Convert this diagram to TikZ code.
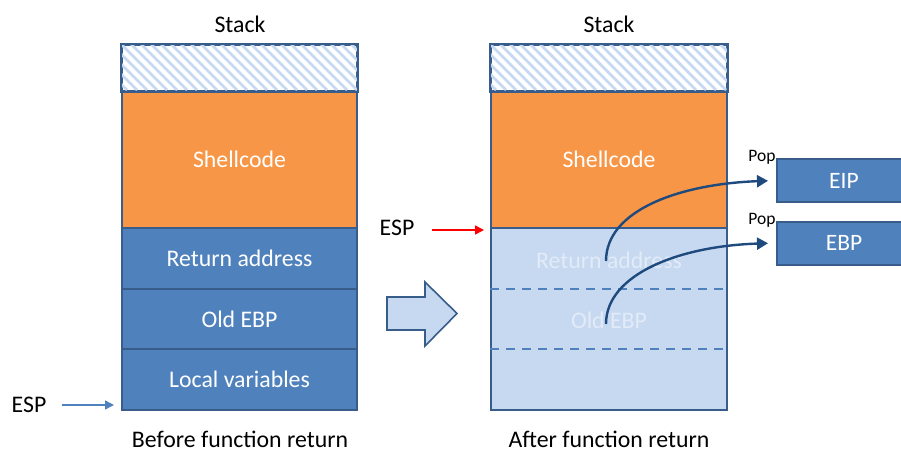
\documentclass[tikz,border=0pt]{standalone}
\usepackage{fontspec}
\setmainfont{Carlito}
\usetikzlibrary{arrows.meta,calc}
\definecolor{cellorange}{HTML}{F79646}
\definecolor{cellblue}{HTML}{4F81BD}
\definecolor{cellline}{HTML}{385D8A}
\definecolor{celllight}{HTML}{C6D9F1}
\definecolor{ghosttext}{HTML}{E2EBF7}
\definecolor{popline}{HTML}{1F4A7E}
\tikzset{
  cell/.style={draw=cellline, line width=2pt, inner sep=0pt, minimum width=235pt,
    text=white, font=\fontsize{23.8}{28}\selectfont},
  hatchcell/.style={cell, fill=white, minimum height=46pt},
  regbox/.style={draw=cellline, line width=2pt, fill=cellblue, inner sep=0pt,
    minimum width=134pt, minimum height=43pt, text=white, font=\fontsize{23.5}{28}\selectfont},
  label/.style={font=\fontsize{23.8}{28}\selectfont, inner sep=0pt},
  caption/.style={label, anchor=base, text depth=0pt},
  poplabel/.style={font=\fontsize{17.5}{21}\selectfont, inner sep=0pt},
  ghost/.style={text=ghosttext, font=\fontsize{23.8}{28}\selectfont, inner sep=0pt},
  divider/.style={draw=cellblue, line width=2pt, dash pattern=on 9pt off 7pt},
  poparrow/.style={draw=popline, line width=2.4pt, shorten >=8pt, -{Triangle[length=11pt,width=12pt]}},
}
\begin{document}
\begin{tikzpicture}[x=1pt,y=-1pt]
\useasboundingbox (0,0) rectangle (901,453);

% ---------- stack before return ----------
\node[label] (titleL) at (240,24) {Stack};
\node[hatchcell] (freeL) at (239.5,68) {};
\node[cell, fill=cellorange, minimum height=137pt] (shellL) at (239.5,159.5) {Shellcode};
\node[cell, fill=cellblue, minimum height=61pt] (retL) at (239.5,258.5) {Return address};
\node[cell, fill=cellblue, minimum height=60pt] (ebpL) at (239.5,319) {Old EBP};
\node[cell, fill=cellblue, minimum height=61pt] (localL) at (239.5,379.5) {Local variables};
\node[caption] (capL) at (240,447) {Before function return};

\node[label] (espL) at (29,405) {ESP};
\coordinate (espLtip) at (114,405);
\draw[cellblue, line width=1.5pt, -{Triangle[length=9pt,width=9pt]}] (espL.east) ++(15,0) -- (espLtip);

% ---------- transition arrow ----------
\draw[cellline, line width=1.6pt, fill=celllight, line join=miter]
  (387,297) -- (425,297) -- (425,282) -- (457,313.5) -- (425,346) -- (425,330) -- (387,330) -- cycle;

% ---------- stack after return ----------
\node[label] (titleR) at (609,24) {Stack};
\node[hatchcell, minimum width=236pt] (freeR) at (609,68) {};
\node[cell, fill=cellorange, minimum width=236pt, minimum height=137pt] (shellR) at (609,159.5) {Shellcode};
\node[cell, fill=celllight, minimum width=236pt, minimum height=182pt] (popped) at (609,319) {};
\draw[divider] (popped.west |- 0,289) -- (popped.east |- 0,289);
\draw[divider] (popped.west |- 0,349) -- (popped.east |- 0,349);
\node[ghost] (retR) at (609,260) {Return address};
\node[ghost] (ebpR) at (609,320) {Old EBP};
\node[caption] (capR) at (609,447) {After function return};

\node[label] (espR) at (397,228) {ESP};
\coordinate (espRtip) at (484,230);
\draw[red, line width=1.5pt, -{Triangle[length=9pt,width=9pt]}] (espR.east |- espRtip) ++(17,0) -- (espRtip);

% hatching of the unused stack area
\foreach \cellname in {freeL,freeR}{
  \begin{scope}
    \clip (\cellname.north west) rectangle (\cellname.south east);
    \foreach \i in {-6,...,26}{
      \draw[celllight, line width=2.6pt]
        ($(\cellname.north west)+(10*\i,0)$) -- ++(46,46);
    }
  \end{scope}
  \draw[cellline, line width=2pt] (\cellname.north west) rectangle (\cellname.south east);
}

% ---------- registers ----------
\node[regbox] (eip) at (844,180.5) {EIP};
\node[regbox] (ebp) at (844,243) {EBP};
\node[poplabel] (popEIP) at (762,157) {Pop};
\node[poplabel] (popEBP) at (762,220) {Pop};

\coordinate (retsrc) at (606,261);
\coordinate (ebpsrc) at (606,324);
\draw[poparrow] (retsrc) .. controls (606,210) and (680,184) .. (eip.west);
\draw[poparrow] (ebpsrc) .. controls (606,274) and (680,246) .. (ebp.west);
\end{tikzpicture}
\end{document}
